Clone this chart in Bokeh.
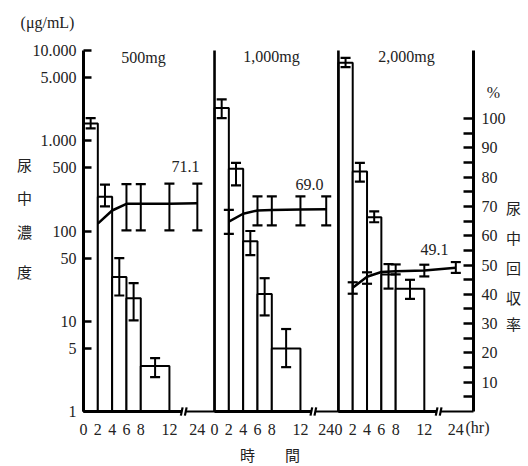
from bokeh.plotting import figure
from bokeh.models import Range1d, LinearAxis, FixedTicker, Label, LinearScale
from bokeh.embed import file_html
from bokeh.resources import INLINE

# ---------------- data ----------------
dose_labels = ["500mg", "1,000mg", "2,000mg"]
interval_start = [0, 2, 4, 6, 8]          # hr
interval_end = [2, 4, 6, 8, 12]           # hr

# urinary concentration (ug/mL) mean, upper and lower error limits
conc_500 = [1550, 240, 31, 18, 3.2]
conc_500_hi = [1780, 327, 50, 26.5, 3.9]
conc_500_lo = [1370, 187, 19.3, 10.2, 2.4]

conc_1000 = [2300, 490, 77, 20, 5.0]
conc_1000_hi = [2870, 570, 100, 30, 8.2]
conc_1000_lo = [1780, 320, 54, 11.6, 3.1]

conc_2000 = [7300, 456, 142, 33, 22.9]
conc_2000_hi = [8300, 570, 165, 43, 28.8]
conc_2000_lo = [6530, 352, 125, 23, 17.7]

# cumulative urinary recovery (%)
rec_hours = [2, 4, 6, 8, 12, 24]
rec_500 = [64.1, 68.6, 70.9, 70.9, 70.9, 71.1]
rec_500_hi = [None, None, 77.6, 77.6, 77.8, 77.8]
rec_500_lo = [None, None, 61.8, 61.8, 61.8, 61.8]

rec_1000 = [64.8, 67.5, 68.6, 68.8, 68.9, 69.0]
rec_1000_hi = [68.8, None, 73.4, 73.4, 73.4, 73.4]
rec_1000_lo = [60.6, None, 63.5, 63.5, 63.5, 63.5]

rec_2000 = [42.2, 46.0, 47.6, 47.9, 48.1, 49.1]
rec_2000_hi = [44.1, 47.5, None, 50.2, 50.1, 51.0]
rec_2000_lo = [40.2, 43.6, None, 46.8, 46.1, 47.3]

final_rec_labels = ["71.1", "69.0", "49.1"]

x_tick_hours = [0, 2, 4, 6, 8, 12, 24]
x_tick_labels = ["0", "2", "4", "6", "8", "12", "24"]
conc_ticks = [1, 5, 10, 50, 100, 500, 1000, 5000, 10000]
conc_tick_labels = ["1", "5", "10", "50", "100", "500", "1.000", "5.000", "10.000"]
pct_ticks = [5, 10, 15, 20, 25, 30, 35, 40, 45, 50, 55, 60, 65, 70, 75, 80, 85, 90, 95, 100]

left_title = "尿中濃度"
right_title = "尿中回収率"
x_title = "時　　間"
unit_conc = "(μg/mL)"
unit_pct = "%"
unit_time = "(hr)"

# ---------------- layout helpers ----------------
W, H = 528, 466
AX_L, AX_R, AX_T = 83, 473, 50              # axis positions (px)
BASE = 411                                  # baseline (px)
PXU = 7.16                                  # px per hour unit
XMAX = (AX_R - AX_L) / PXU
panel_offset = [0.0, 18.3, 35.6]
pos_24 = [15.9, 15.6, 16.4]
break_pos = [14.0, 13.8, 14.0]
DEC = 90.25                                 # px per decade
PCT = 2.93                                  # px per percent


def hx(panel, h):
    return panel_offset[panel] + (pos_24[panel] if h == 24 else h)


def X(px):
    return (px - AX_L) / PXU


def P(py):
    return (BASE - py) / PCT


PCT_TOP = P(AX_T)

SERIF = "Liberation Serif"
CJK = "Noto Sans CJK JP"
TXT = "#222222"

p = figure(width=W, height=H, x_range=Range1d(X(0), X(W)),
           y_range=Range1d(10 ** (-(H - BASE) / DEC), 10 ** (BASE / DEC)),
           y_axis_type="log", output_backend="svg", toolbar_location=None,
           min_border=0, min_border_left=0, min_border_right=0,
           min_border_top=0, min_border_bottom=0)
p.title.visible = False
p.extra_y_ranges = {"pct": Range1d(P(H), P(0))}
p.extra_y_scales = {"pct": LinearScale()}
p.outline_line_color = None
p.xgrid.visible = False
p.ygrid.visible = False
p.background_fill_color = "white"
p.border_fill_color = "white"

# left log axis
ya = p.yaxis[0]
ya.fixed_location = 0
ya.bounds = (conc_ticks[0], conc_ticks[-1])
ya.ticker = FixedTicker(ticks=conc_ticks)
ya.major_label_overrides = dict(zip(conc_ticks, conc_tick_labels))
ya.major_tick_in = 8
ya.major_tick_out = 0
ya.minor_tick_line_color = None
ya.axis_line_width = 3
ya.major_tick_line_width = 2.5
ya.major_label_standoff = 7
ya.major_label_text_font = SERIF
ya.major_label_text_font_size = "16px"
ya.major_label_text_color = TXT

# bottom axis (labels only)
xticks, xover = [], {}
for k in range(3):
    for h, lab in zip(x_tick_hours, x_tick_labels):
        v = hx(k, h)
        xticks.append(v)
        xover[v] = lab
xa = p.xaxis[0]
xa.fixed_location = 1
xa.ticker = FixedTicker(ticks=xticks)
xa.major_label_overrides = xover
xa.axis_line_color = None
xa.major_tick_line_color = None
xa.minor_tick_line_color = None
xa.major_label_standoff = 6
xa.major_label_text_font = SERIF
xa.major_label_text_font_size = "16px"
xa.major_label_text_color = TXT

# right % axis
ra = LinearAxis(y_range_name="pct", fixed_location=XMAX, bounds=(0, PCT_TOP),
                ticker=FixedTicker(ticks=pct_ticks),
                major_label_overrides={t: (str(t) if t % 10 == 0 else "") for t in pct_ticks})
ra.major_tick_in = 10
ra.major_tick_out = 0
ra.minor_tick_line_color = None
ra.axis_line_width = 3
ra.major_tick_line_width = 2.5
ra.major_label_standoff = 8
ra.major_label_text_font = SERIF
ra.major_label_text_font_size = "16px"
ra.major_label_text_color = TXT
p.add_layout(ra, "right")

CAP = 0.7


def whiskers(xs, his, los, **kw):
    xx, hh, ll = [], [], []
    for x, h, l in zip(xs, his, los):
        if h is None or l is None:
            continue
        xx.append(x); hh.append(h); ll.append(l)
    p.segment(x0=xx, y0=ll, x1=xx, y1=hh, line_color="black", line_width=2, **kw)
    p.segment(x0=[x - CAP for x in xx], y0=hh, x1=[x + CAP for x in xx], y1=hh,
              line_color="black", line_width=2.2, **kw)
    p.segment(x0=[x - CAP for x in xx], y0=ll, x1=[x + CAP for x in xx], y1=ll,
              line_color="black", line_width=2.2, **kw)


concs = [(conc_500, conc_500_hi, conc_500_lo),
         (conc_1000, conc_1000_hi, conc_1000_lo),
         (conc_2000, conc_2000_hi, conc_2000_lo)]
recs = [(rec_500, rec_500_hi, rec_500_lo),
        (rec_1000, rec_1000_hi, rec_1000_lo),
        (rec_2000, rec_2000_hi, rec_2000_lo)]

for k in range(3):
    vals, his, los = concs[k]
    left = [hx(k, a) for a in interval_start]
    right = [hx(k, b) for b in interval_end]
    p.quad(left=left, right=right, bottom=[1] * len(vals), top=vals,
           fill_color="white", line_color="black", line_width=2)
    mids = [(a + b) / 2 for a, b in zip(left, right)]
    whiskers(mids, his, los)

for k in range(3):
    vals, his, los = recs[k]
    xs = [hx(k, h) for h in rec_hours]
    p.line(xs, vals, y_range_name="pct", line_color="black", line_width=2.5)
    whiskers(xs, his, los, y_range_name="pct")

# panel walls
for k in (1, 2):
    p.segment(x0=[panel_offset[k]], y0=[0], x1=[panel_offset[k]], y1=[PCT_TOP],
              y_range_name="pct", line_color="black", line_width=2.6)

# baseline with break marks
GAP = 0.28
for k in range(3):
    end = panel_offset[k + 1] if k < 2 else XMAX
    b = panel_offset[k] + break_pos[k]
    p.segment(x0=[panel_offset[k]], y0=[0], x1=[b - GAP], y1=[0],
              y_range_name="pct", line_color="black", line_width=3)
    p.segment(x0=[b + GAP], y0=[0], x1=[end], y1=[0],
              y_range_name="pct", line_color="black", line_width=2)
    p.segment(x0=[b - GAP - 0.12, b + GAP - 0.12], y0=[-1.4, -1.4],
              x1=[b - GAP + 0.12, b + GAP + 0.12], y1=[1.4, 1.4],
              y_range_name="pct", line_color="black", line_width=2.2)


def label(px, py, text, font=SERIF, size="16px", align="center"):
    p.add_layout(Label(x=X(px), y=P(py), y_range_name="pct", text=text, text_font=font,
                       text_font_size=size, text_align=align, text_baseline="middle",
                       text_color=TXT))


# dose titles
for (px, py), t in zip([(143, 57), (271, 56), (406, 56)], dose_labels):
    label(px, py, t)
# final recovery values
for (px, py), t in zip([(185, 166), (309, 184), (434, 249)], final_rec_labels):
    label(px, py, t)

label(47, 22, unit_conc)
label(493, 92, unit_pct)
label(465, 427, unit_time, align="left")

for ch, py in zip(left_title, [164, 197, 231, 271]):
    label(24, py, ch, font=CJK, size="15px")
for ch, py in zip(right_title, [207, 237, 267, 297, 323]):
    label(513, py, ch, font=CJK, size="15px")
label(269.5, 454, x_title, font=CJK, size="15px")

open("out.html", "w").write(file_html(p, INLINE))
